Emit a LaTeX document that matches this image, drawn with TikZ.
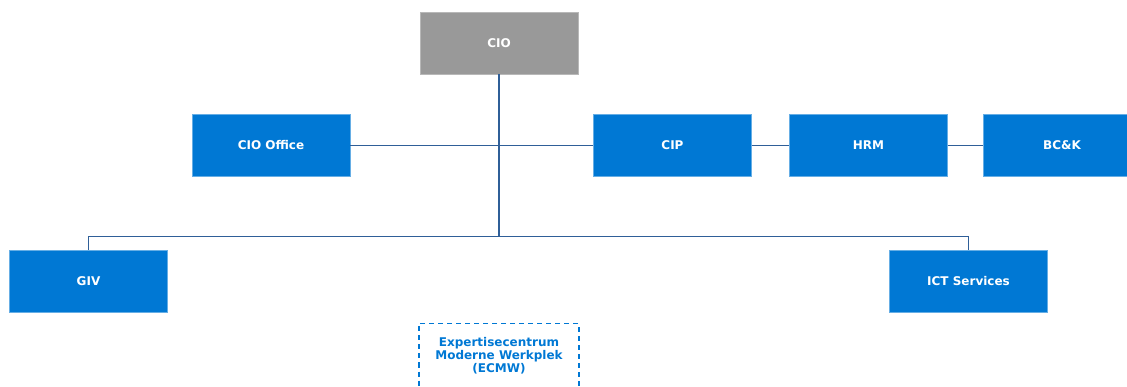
\documentclass[tikz,border=0pt]{standalone}
\usepackage{fontspec}
\setmainfont{DejaVu Sans}
\definecolor{boxblue}{HTML}{0078D4}
\definecolor{boxgray}{HTML}{999999}
\definecolor{linecol}{HTML}{2F5F98}
\begin{document}
\begin{tikzpicture}[x=1pt,y=-1pt,
  unit/.style={fill=boxblue, draw=boxblue!60!white, line width=0.4pt, inner sep=0pt,
    minimum width=158pt, minimum height=62pt, text=white, font=\bfseries\fontsize{12}{13}\selectfont, align=center},
  conn/.style={draw=linecol, line width=1.3pt},
  dashbox/.style={draw=boxblue, dashed, dash pattern=on 5pt off 4pt, line width=1.2pt, inner sep=0pt,
    minimum width=160pt, minimum height=64pt, text=boxblue, font=\bfseries\fontsize{12}{13}\selectfont, align=center}]
\useasboundingbox (0,0) rectangle (1127,387);
\node[unit, fill=boxgray, draw=boxgray!70!white] (cio) at (499,43) {CIO};
\node[unit] (office) at (271,145.5) {CIO Office};
\node[unit] (cip) at (672.5,145.5) {CIP};
\node[unit] (hrm) at (868.5,145.5) {HRM};
\node[unit] (bck) at (1062,145.5) {BC\&K};
\node[unit] (giv) at (88.5,281) {GIV};
\node[unit] (ict) at (968.5,281) {ICT Services};
\node[dashbox] (ecmw) at (499,355.5) {Expertisecentrum\\Moderne Werkplek\\(ECMW)};
\coordinate (bus) at (499,236.5);
\draw[conn] (cio.south) -- (bus);
\draw[conn] (office.east) -- (cip.west);
\draw[conn] (cip.east) -- (hrm.west);
\draw[conn] (hrm.east) -- (bck.west);
\draw[conn] (giv.north) |- (bus) -| (ict.north);
\end{tikzpicture}
\end{document}
